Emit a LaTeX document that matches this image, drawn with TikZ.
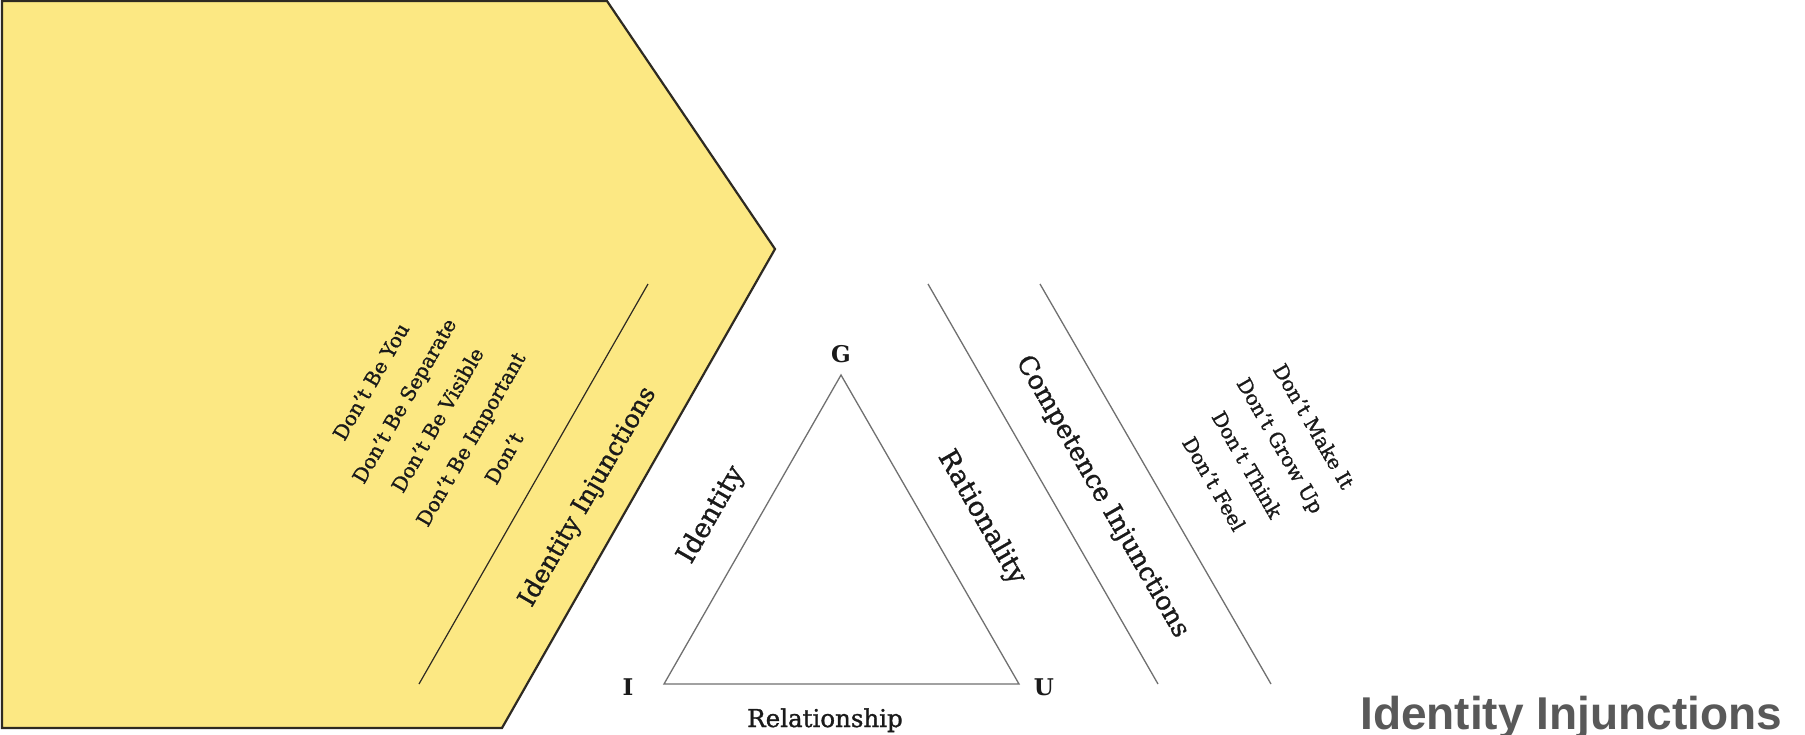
\documentclass[tikz,border=0pt]{standalone}
\usepackage{fontspec}
\setmainfont{DejaVu Serif}[BoldFont={DejaVu Serif}, BoldFeatures={FakeBold=1.2}]
\newfontfamily\vertexfont{DejaVu Serif Bold}
\newfontfamily\titlefont{Liberation Sans}
\definecolor{pentyellow}{HTML}{FCE883}
\definecolor{edgedark}{HTML}{2E2A22}
\definecolor{trigrey}{HTML}{707070}
\definecolor{titlegrey}{HTML}{595959}
\definecolor{inkblack}{HTML}{1A1A1A}
\tikzset{
  bigl/.style={inner sep=0pt, text=inkblack, font=\fontsize{27}{33}\selectfont\bfseries},
  rell/.style={inner sep=0pt, text=inkblack, font=\fontsize{24.5}{30}\selectfont\bfseries},
  midl/.style={inner sep=0pt, text=inkblack, font=\fontsize{25}{30}\selectfont\bfseries},
  compl/.style={inner sep=0pt, text=inkblack, font=\fontsize{26}{31}\selectfont\bfseries},
  listl/.style={inner sep=0pt, text=inkblack, align=center, font=\fontsize{20}{38.4}\selectfont\bfseries},
  vertexl/.style={inner sep=0pt, text=inkblack, font=\vertexfont\fontsize{23}{27}\selectfont},
  thinline/.style={draw=trigrey, line width=1.3pt},
  divider/.style={draw=edgedark, line width=1.2pt}
}
\begin{document}
\begin{tikzpicture}[x=1pt,y=-1pt]
\useasboundingbox (0,0) rectangle (1805,734);
\fill[white] (0,0) rectangle (1805,734);
% yellow pentagon
\filldraw[fill=pentyellow, draw=edgedark, line width=2.2pt, line join=miter]
  (2,1) -- (607,1) -- (775,249) -- (502,728) -- (2,728) -- cycle;
% divider inside yellow
\coordinate (ya) at (648,284);
\coordinate (yb) at (419,684);
\draw[divider] (ya) -- (yb);
% competence lines
\coordinate (c1a) at (928,284);
\coordinate (c1b) at (1158,684);
\coordinate (c2a) at (1040,284);
\coordinate (c2b) at (1271,684);
\draw[thinline] (c1a) -- (c1b);
\draw[thinline] (c2a) -- (c2b);
% triangle
\coordinate (vI) at (664,684);
\coordinate (vG) at (841,375);
\coordinate (vU) at (1019,684);
\draw[thinline, line join=miter] (vI) -- (vG) -- (vU) -- cycle;
% vertex labels
\node[vertexl] (lG) at (841,354) {G};
\node[vertexl] (lI) at (628,687) {I};
\node[vertexl] (lU) at (1044,687) {U};
% side labels
\node[bigl, rotate=60] (lid) at (711.5,515) {Identity};
\node[bigl, rotate=-60] (lrat) at (981.5,517.5) {Rationality};
\node[rell, anchor=base] (lrel) at (825,727) {Relationship};
% injunction headings
\node[midl, rotate=60] (hid) at (588,497) {Identity Injunctions};
\node[compl, rotate=-60] (hcomp) at (1102,497) {Competence Injunctions};
% lists
\node[listl, rotate=60] (listid) at (437.5,420) {Don't Be You\\Don't Be Separate\\Don't Be Visible\\Don't Be Important\\Don't};
\node[listl, rotate=-60] (listcomp) at (1264,455) {Don't Make It\\Don't Grow Up\\Don't Think\\Don't Feel};
% title
\node[inner sep=0pt, anchor=base west, text=titlegrey, font=\titlefont\fontsize{46}{54}\selectfont\bfseries] (title) at (1360,729) {Identity Injunctions};
\end{tikzpicture}
\end{document}
